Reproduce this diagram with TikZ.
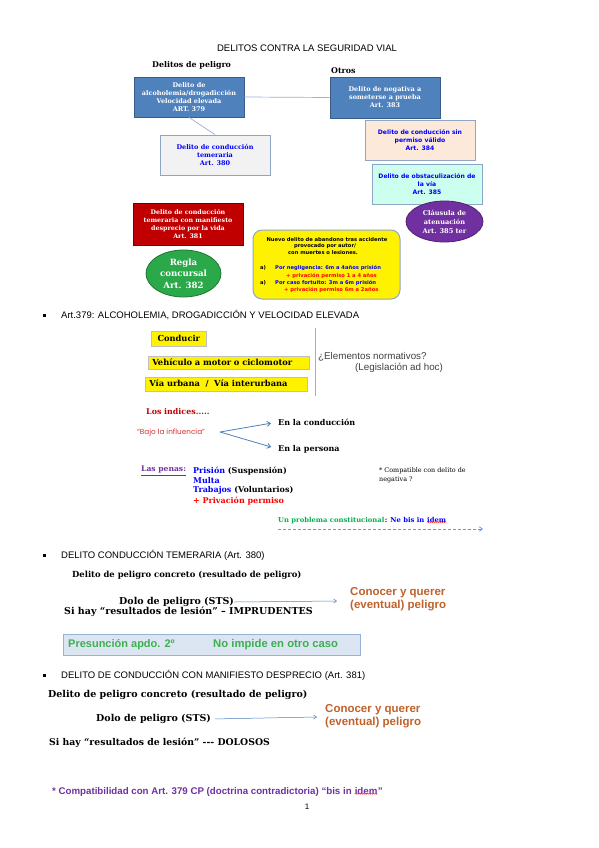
\documentclass[tikz,border=0pt]{standalone}
\usepackage{fontspec}
\setmainfont{DejaVu Serif}
\newfontfamily\arial{Liberation Sans}
\newfontfamily\dvs{DejaVu Sans}
\newfontfamily\pop{Poppins}
\usetikzlibrary{arrows.meta,shapes.geometric,decorations.pathmorphing}
\definecolor{cBlue}{HTML}{4F81BD}
\definecolor{cBlueD}{HTML}{385D8A}
\definecolor{cLine}{HTML}{95B3D7}
\definecolor{cBord}{HTML}{8EA6C6}
\definecolor{cGray}{HTML}{F2F2F2}
\definecolor{cPeach}{HTML}{FDE9D9}
\definecolor{cAqua}{HTML}{CCFFEE}
\definecolor{cRed}{HTML}{C00000}
\definecolor{cGreen}{HTML}{2BA84A}
\definecolor{cPurple}{HTML}{7030A0}
\definecolor{cTxtBlue}{HTML}{0000FF}
\definecolor{cOrange}{HTML}{C0622B}
\definecolor{cPres}{HTML}{DCE6F2}
\definecolor{cGrn}{HTML}{3CB050}
\definecolor{cGrnU}{HTML}{00B050}
\definecolor{cDash}{HTML}{6F8FFF}
\definecolor{cBajo}{HTML}{D93030}
\tikzset{
  hd/.style={anchor=west, inner sep=0pt, font=\arial\fontsize{9.5}{11}\selectfont},
  bul/.style={rectangle, fill=black, minimum size=3pt, inner sep=0pt},
  tbox/.style={rectangle, line width=0.8pt, minimum width=110pt, minimum height=40pt, align=center, inner sep=1pt},
  sbsmall/.style={font=\bfseries\fontsize{6.5}{8}\selectfont},
  sasmall/.style={font=\dvs\bfseries\fontsize{6.1}{8.3}\selectfont},
  conn/.style={draw=cLine, line width=0.7pt},
  txt/.style={anchor=west, inner sep=0pt},
  sb8/.style={txt, font=\bfseries\fontsize{8}{10}\selectfont},
  sb9/.style={txt, font=\bfseries\fontsize{9.5}{11}\selectfont},
  ylw/.style={txt, font=\dvs\bfseries\fontsize{5.2}{7}\selectfont},
  ybox/.style={rectangle, anchor=west, fill=yellow, draw=black!25, line width=0.6pt, inner xsep=4pt, inner ysep=0pt, font=\bfseries\fontsize{8.3}{10}\selectfont, align=left},
  thinarrow/.style={draw=cBlue, line width=0.5pt, -{Straight Barb[length=3pt,width=4pt]}},
  cq/.style={txt, align=left, text=cOrange, font=\arial\bfseries\fontsize{11.5}{13}\selectfont},
  wavy/.style={draw=red!80, line width=0.5pt, decorate, decoration={snake, amplitude=0.5pt, segment length=2pt}}
}
\begin{document}
\begin{tikzpicture}[x=1pt,y=-1pt]
\fill[white] (0,0) rectangle (599,848);
\useasboundingbox (0,0) rectangle (599,848);

% ---------- top diagram ----------
\node[hd, anchor=center] (title) at (307,48) {DELITOS CONTRA LA SEGURIDAD VIAL};
\node[txt, font=\bfseries\fontsize{7.9}{9}\selectfont] (dp) at (152,65) {Delitos de peligro};
\node[txt, font=\bfseries\fontsize{7.9}{9}\selectfont] (otros) at (331,71) {Otros};

\node[tbox, sbsmall, fill=cBlue, draw=cBlueD, text=white] (b379) at (189,97) {Delito de\\alcoholemia/drogadicción\\Velocidad elevada\\ART. 379};
\node[tbox, sbsmall, fill=cBlue, draw=cBlueD, text=white, minimum height=41pt] (b383) at (385,97.5) {Delito de negativa a\\someterse a prueba\\Art. 383};
\node[tbox, sbsmall, fill=cGray, draw=cBord, text=cTxtBlue] (b380) at (215,155) {Delito de conducción\\temeraria\\Art. 380};
\node[tbox, sasmall, fill=cPeach, draw=cBord, text=cTxtBlue] (b384) at (420,140) {Delito de conducción sin\\permiso válido\\Art. 384};
\node[tbox, sasmall, fill=cAqua, draw=cBord, text=cTxtBlue] (b385) at (427,184) {Delito de obstaculización de\\la vía\\Art. 385};
\node[ellipse, minimum width=77pt, minimum height=41pt, inner sep=0pt, fill=cPurple, draw=cPurple!70!black, line width=0.8pt, text=white, align=center, font=\bfseries\fontsize{6.6}{9}\selectfont] (e385) at (444.5,221.5) {Cláusula de\\atenuación\\Art. 385 ter};
\node[tbox, fill=cRed, draw=cRed!60!black, text=white, minimum height=42pt, font=\bfseries\fontsize{6.3}{8.3}\selectfont] (b381) at (188,224) {Delito de conducción\\temeraria con manifiesto\\desprecio por la vida\\Art. 381};
\node[ellipse, minimum width=75pt, minimum height=47pt, inner sep=0pt, fill=cGreen, draw=cGreen!70!black, line width=0.8pt, text=white, align=center, font=\bfseries\fontsize{8.6}{11.5}\selectfont] (e382) at (183.5,273.5) {Regla\\concursal\\Art. 382};

\node[rectangle, rounded corners=9pt, minimum width=147pt, minimum height=69pt, fill=yellow, draw=cBord, line width=1pt] (yb) at (326.5,264.5) {};
\node[ylw, anchor=center] (y1) at (327,240) {Nuevo delito de abandono tras accidente};
\node[ylw, anchor=center] (y2) at (325,246.5) {provocado por autor/};
\node[ylw, anchor=center] (y3) at (323,253) {con muertes o lesiones.};
\node[ylw] (ya1) at (260,268) {a)};
\node[ylw, text=cTxtBlue] (y4) at (275,268) {Por negligencia: 6m a 4años prisión};
\node[ylw, text=red] (y5) at (286,275.5) {+ privación permiso 1 a 4 años};
\node[ylw] (ya2) at (260,283) {a)};
\node[ylw, text=cTxtBlue] (y6) at (275,283) {Por caso fortuito: 3m a 6m prisión};
\node[ylw, text=red] (y7) at (284,290) {+ privación permiso 6m a 2años};

\draw[conn] (b379.east) -- (b383.west);
\draw[conn] (b379.south) -- (b380.north);

% ---------- Art. 379 ----------
\node[bul] (bu1) at (44,315) {};
\node[hd] (h1) at (61,315) {Art.379: ALCOHOLEMIA, DROGADICCIÓN Y VELOCIDAD ELEVADA};
\node[ybox, minimum width=55pt, minimum height=15pt, align=center] (cond) at (151,338.5) {Conducir};
\node[ybox, text width=153pt, minimum height=13pt] (veh) at (148,362.5) {Vehículo a motor o ciclomotor};
\node[ybox, text width=154pt, minimum height=14pt] (via) at (145,384) {Vía urbana\ \ /\ \ Vía interurbana};
\coordinate (vt) at (315,328);
\coordinate (vb) at (315,396);
\draw[draw=cLine, line width=0.7pt] (vt) -- (vb);
\node[txt, text=black!75, font=\arial\fontsize{9.8}{11}\selectfont] (el) at (318,357) {¿Elementos normativos?};
\node[txt, text=black!75, font=\arial\fontsize{9.8}{11}\selectfont] (leg) at (355,368) {(Legislación ad hoc)};

\node[txt, text=cRed, font=\bfseries\fontsize{7.9}{9}\selectfont] (li) at (146,412) {Los indices.....};
\node[txt, text=cBajo, font=\pop\fontsize{7.3}{8}\selectfont] (bajo) at (137,433) {“Bajo la influencia”};
\coordinate (fork) at (220,432);
\node[sb8] (enc) at (278,422) {En la conducción};
\node[sb8] (enp) at (278,449) {En la persona};
\draw[draw=cBlue, line width=0.8pt, -{Straight Barb[length=3.5pt,width=5pt]}, shorten >=7pt] (fork) -- (enc.west);
\draw[draw=cBlue, line width=0.8pt, -{Straight Barb[length=3.5pt,width=5pt]}, shorten >=7pt] (fork) -- (enp.west);

\node[sb8, text=cPurple, font=\bfseries\fontsize{7.6}{9}\selectfont] (lp) at (141,471) {\underline{Las penas:}};
\node[sb8] (p1) at (193,471) {{\color{cTxtBlue}Prisión} (Suspensión)};
\node[sb8, text=cTxtBlue] (p2) at (193,480.5) {Multa};
\node[sb8] (p3) at (193,490.5) {{\color{cTxtBlue}Trabajos} (Voluntarios)};
\node[sb8, text=red] (p4) at (193,501) {+ Privación permiso};
\node[txt, align=left, font=\fontsize{6.4}{9}\selectfont] (cmp) at (379,475.5) {* Compatible con delito de\\negativa ?};

\node[txt, text=cGrnU, font=\bfseries\fontsize{6.8}{8}\selectfont] (up1) at (278,521) {Un problema constitucional};
\node[anchor=base west, inner sep=0pt, text=cTxtBlue, font=\bfseries\fontsize{6.8}{8}\selectfont] (up2) at (up1.base east) {{\color{black}:} Ne bis in\ \kern0pt};
\node[anchor=base west, inner sep=0pt, text=cTxtBlue, font=\bfseries\fontsize{6.8}{8}\selectfont] (up3) at (up2.base east) {idem};
\draw[wavy] ([yshift=1pt]up3.south west) -- ([yshift=1pt]up3.south east);
\coordinate (dl) at (278,529);
\coordinate (dr) at (483,529);
\draw[draw=cDash, line width=0.8pt, dash pattern=on 3pt off 2pt, -{Straight Barb[length=3pt,width=4.5pt]}] (dl) -- (dr);

% ---------- Art. 380 ----------
\node[bul] (bu2) at (44,555) {};
\node[hd] (h2) at (61,555) {DELITO CONDUCCIÓN TEMERARIA (Art. 380)};
\node[sb8, font=\bfseries\fontsize{8.4}{10}\selectfont] (d3a) at (72,575) {Delito de peligro concreto (resultado de peligro)};
\node[sb9] (d3b) at (119,602) {Dolo de peligro (STS)};
\coordinate (a3e) at (337,601);
\draw[thinarrow] (d3b.east) -- (a3e);
\node[sb9] (d3c) at (64,612) {Si hay “resultados de lesión” – IMPRUDENTES};
\node[cq] (cq3) at (350,599.5) {Conocer y querer\\(eventual) peligro};
\node[rectangle, minimum width=297pt, minimum height=21pt, fill=cPres, draw=cLine, line width=1pt] (pres) at (211.5,644.5) {};
\node[txt, text=cGrn, font=\arial\bfseries\fontsize{11}{13}\selectfont] (pr1) at (68,645) {Presunción apdo. 2º};
\node[txt, text=cGrn, font=\arial\bfseries\fontsize{11.3}{13}\selectfont] (pr2) at (213,645) {No impide en otro caso};

% ---------- Art. 381 ----------
\node[bul] (bu3) at (44,675) {};
\node[hd] (h3) at (61,675) {DELITO DE CONDUCCIÓN CON MANIFIESTO DESPRECIO (Art. 381)};
\node[sb9] (d4a) at (48,695) {Delito de peligro concreto (resultado de peligro)};
\node[sb9] (d4b) at (96,719) {Dolo de peligro (STS)};
\coordinate (a4e) at (317,717);
\draw[thinarrow, shorten <=4pt] (d4b.east) -- (a4e);
\node[cq] (cq4) at (325,716.5) {Conocer y querer\\(eventual) peligro};
\node[sb9, font=\bfseries\fontsize{9.3}{11}\selectfont] (d4c) at (49,743) {Si hay “resultados de lesión” -{}-{}- DOLOSOS};

\node[txt, text=cPurple, font=\arial\bfseries\fontsize{9.7}{11}\selectfont] (cp1) at (52,792) {* Compatibilidad con Art. 379 CP (doctrina contradictoria) “bis in\ \kern0pt};
\node[anchor=base west, inner sep=0pt, text=cPurple, font=\arial\bfseries\fontsize{9.7}{11}\selectfont] (cp2) at (cp1.base east) {idem};
\node[anchor=base west, inner sep=0pt, text=cPurple, font=\arial\bfseries\fontsize{9.7}{11}\selectfont] (cp3) at (cp2.base east) {”};
\draw[wavy] ([yshift=1pt]cp2.south west) -- ([yshift=1pt]cp2.south east);
\node[anchor=center, inner sep=0pt, font=\arial\fontsize{8}{9}\selectfont] (pg) at (307,807) {1};
\end{tikzpicture}
\end{document}
